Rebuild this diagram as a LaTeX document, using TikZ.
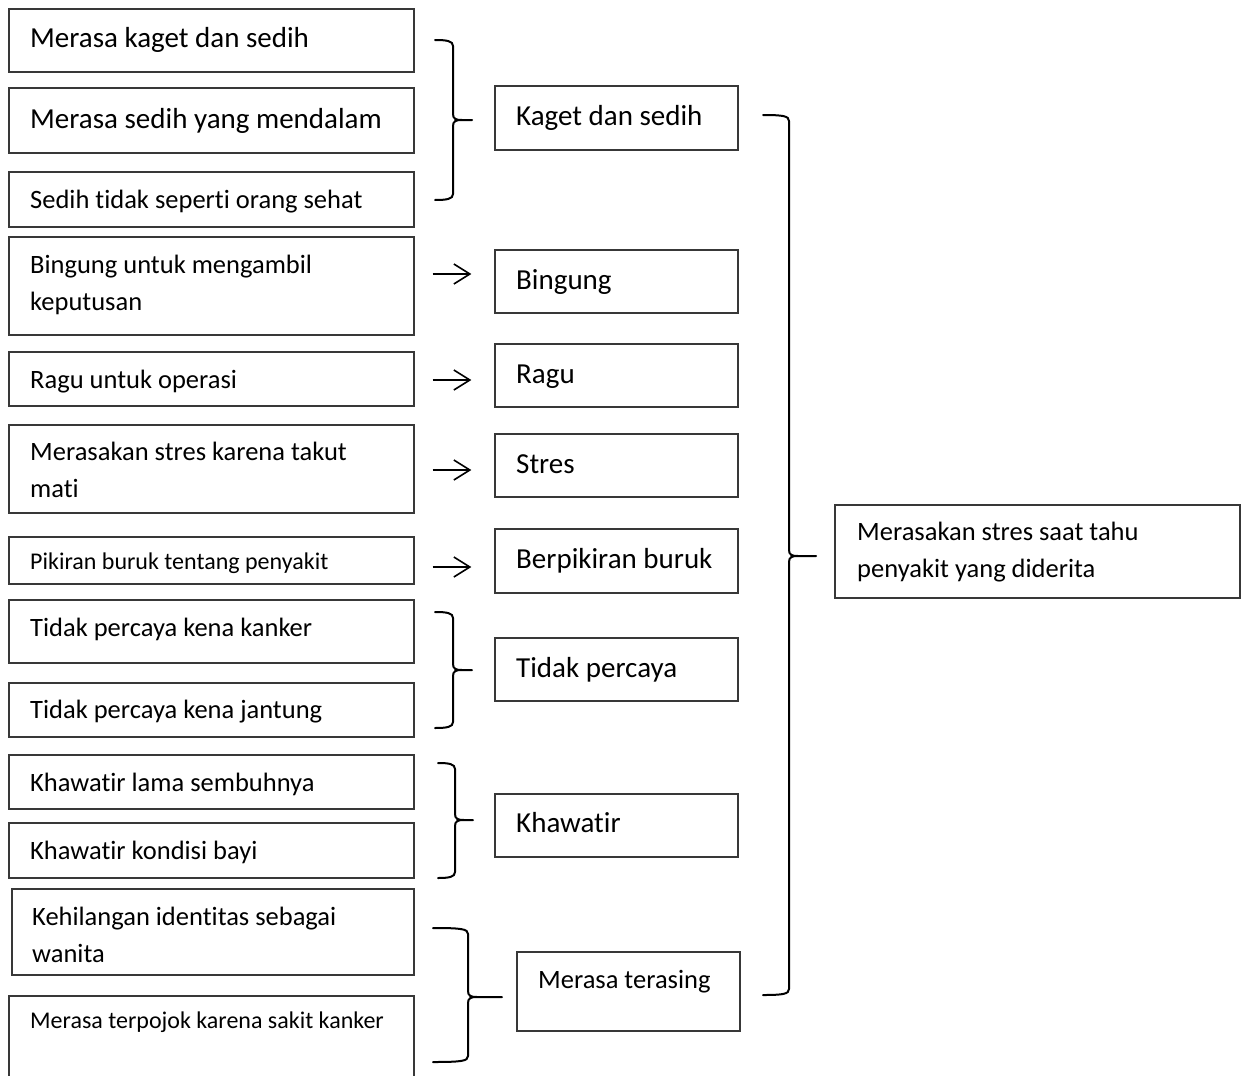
\documentclass[tikz,border=0pt]{standalone}
\usepackage{fontspec}
\setmainfont{Carlito}[Ligatures={NoCommon,NoContextual}]
\usetikzlibrary{fit,arrows.meta}

% right-hand curly brace: arm start x, spine x, tip x, top y, tip y, bottom y
\newcommand\sidebrace[6]{%
  \draw[bracestyle] (#1,#4) .. controls (#2-6,#4) and (#2,#4+1) .. (#2,#4+6)
    -- (#2,#5-6) .. controls (#2,#5-1) and (#2+3,#5) .. (#2+9,#5) -- (#3,#5)
    (#2+9,#5) .. controls (#2+3,#5) and (#2,#5+1) .. (#2,#5+6)
    -- (#2,#6-6) .. controls (#2,#6-1) and (#2-6,#6) .. (#1,#6);}

\begin{document}
\begin{tikzpicture}[x=1pt,y=-1pt,
  box/.style={draw=black!78,line width=1.3pt,inner sep=0pt,rectangle},
  bracestyle/.style={draw=black,line width=2pt,line cap=round},
  arw/.style={draw=black,line width=1.6pt,-{Straight Barb[length=16pt,width=20pt,line width=1.6pt]},
    shorten <=18pt,shorten >=23pt},
  tl/.style={inner sep=0pt,anchor=base west,font=\fontsize{29}{34}\selectfont},
  tm/.style={inner sep=0pt,anchor=base west,font=\fontsize{26.5}{32}\selectfont},
  ts/.style={inner sep=0pt,anchor=base west,font=\fontsize{24}{29}\selectfont}]
\useasboundingbox (0,0) rectangle (1250,1076);

% left column
\node[box,fit={(9,9) (414,72)}] (b1) {};
\node[box,fit={(9,88) (414,153)}] (b2) {};
\node[box,fit={(9,172) (414,227)}] (b3) {};
\node[box,fit={(9,237) (414,335)}] (b4) {};
\node[box,fit={(9,352) (414,406)}] (b5) {};
\node[box,fit={(9,425) (414,513)}] (b6) {};
\node[box,fit={(9,537) (414,584)}] (b7) {};
\node[box,fit={(9,600) (414,663)}] (b8) {};
\node[box,fit={(9,683) (414,737)}] (b9) {};
\node[box,fit={(9,755) (414,809)}] (b10) {};
\node[box,fit={(9,823) (414,878)}] (b11) {};
\node[box,fit={(12,889) (414,975)}] (b12) {};
\node[box,fit={(9,996) (414,1100)}] (b13) {};

\node[tl] (t1) at (30,47) {Merasa kaget dan sedih};
\node[tl] (t2) at (30,128) {Merasa sedih yang mendalam};
\node[tm] (t3) at (30,208) {Sedih tidak seperti orang sehat};
\node[tm] (t4a) at (30,273) {Bingung untuk mengambil};
\node[tm] (t4b) at (30,310) {keputusan};
\node[tm] (t5) at (30,388) {Ragu untuk operasi};
\node[tm] (t6a) at (30,460) {Merasakan stres karena takut};
\node[tm] (t6b) at (30,497) {mati};
\node[ts] (t7) at (30,569) {Pikiran buruk tentang penyakit};
\node[tm] (t8) at (30,636) {Tidak percaya kena kanker};
\node[tm] (t9) at (30,718) {Tidak percaya kena jantung};
\node[tm] (t10) at (30,791) {Khawatir lama sembuhnya};
\node[tm] (t11) at (30,859) {Khawatir kondisi bayi};
\node[tm] (t12a) at (32,925) {Kehilangan identitas sebagai};
\node[tm] (t12b) at (32,962) {wanita};
\node[ts] (t13) at (30,1028) {Merasa terpojok karena sakit kanker};

% middle column
\node[box,fit={(495,86) (738,150)}] (m1) {};
\node[box,fit={(495,250) (738,313)}] (m4) {};
\node[box,fit={(495,344) (738,407)}] (m5) {};
\node[box,fit={(495,434) (738,497)}] (m6) {};
\node[box,fit={(495,529) (738,593)}] (m7) {};
\node[box,fit={(495,638) (738,701)}] (m8) {};
\node[box,fit={(495,794) (738,857)}] (m10) {};
\node[box,fit={(517,952) (740,1031)}] (m12) {};

\node[tl] (s1) at (516,125) {Kaget dan sedih};
\node[tl] (s4) at (516,289) {Bingung};
\node[tl] (s5) at (516,383) {Ragu};
\node[tl] (s6) at (516,473) {Stres};
\node[tl] (s7) at (516,568) {Berpikiran buruk};
\node[tl] (s8) at (516,677) {Tidak percaya};
\node[tl] (s10) at (516,832) {Khawatir};
\node[tm] (s12) at (538,988) {Merasa terasing};

% right column
\node[box,fit={(835,505) (1240,598)}] (r) {};
\node[tm] (u1) at (857,540) {Merasakan stres saat tahu};
\node[tm] (u2) at (857,577) {penyakit yang diderita};

% single-item arrows
\draw[arw] (b4.east |- {(0,274)}) -- (m4.west |- {(0,274)});
\draw[arw] (b5.east |- {(0,380)}) -- (m5.west |- {(0,380)});
\draw[arw] (b6.east |- {(0,470)}) -- (m6.west |- {(0,470)});
\draw[arw] (b7.east |- {(0,567)}) -- (m7.west |- {(0,567)});

% grouping braces
\sidebrace{435}{453}{472}{40}{120}{200}
\sidebrace{435}{453}{472}{612}{670}{728}
\sidebrace{438}{455}{473}{763}{820}{878}
\sidebrace{433}{468}{502}{928}{997}{1062}
\sidebrace{763}{789}{816}{115}{556}{995}
\end{tikzpicture}
\end{document}
